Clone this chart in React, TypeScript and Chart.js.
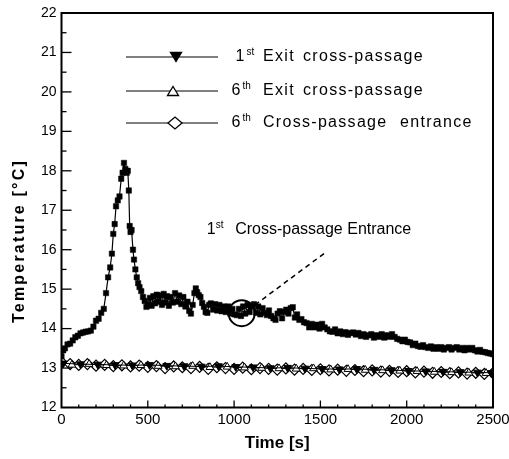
import React, { useEffect, useRef } from 'react';
import { Chart, registerables } from 'chart.js';

Chart.register(...registerables);

// ---------------- DATA ----------------
// 1st Cross-passage Entrance (upper curve, filled squares)
const entrance1Time = [
  0, 10, 20, 35, 50, 65, 80, 95, 110, 125,
  140, 155, 170, 185, 200, 215, 230, 245, 258, 270,
  282, 292, 300, 308, 316, 326, 336, 346, 354, 362,
  370, 378, 384, 390, 395, 400, 406, 414, 420, 428,
  436, 444, 452, 462, 472, 482, 492, 502, 512, 522,
  532, 542, 552, 562, 572, 582, 592, 602, 612, 622,
  632, 645, 658, 670, 682, 694, 706, 718, 730, 740,
  750, 760, 770, 778, 786, 795, 805, 815, 825, 835,
  845, 855, 865, 878, 890, 902, 915, 928, 940, 952,
  965, 978, 990, 1002, 1015, 1028, 1040, 1052, 1065, 1078,
  1090, 1102, 1115, 1128, 1140, 1152, 1165, 1178, 1190, 1202,
  1215, 1228, 1240, 1252, 1265, 1278, 1290, 1302, 1315, 1328,
  1340, 1352, 1365, 1378, 1390, 1405, 1420, 1435, 1450, 1465,
  1480, 1495, 1510, 1525, 1540, 1555, 1570, 1585, 1600, 1615,
  1630, 1645, 1660, 1675, 1690, 1705, 1720, 1735, 1750, 1765,
  1780, 1795, 1810, 1825, 1840, 1855, 1870, 1885, 1900, 1915,
  1930, 1945, 1960, 1975, 1990, 2005, 2020, 2035, 2050, 2065,
  2080, 2095, 2110, 2125, 2140, 2155, 2170, 2185, 2200, 2215,
  2230, 2245, 2260, 2275, 2290, 2305, 2320, 2335, 2350, 2365,
  2380, 2395, 2410, 2425, 2440, 2455, 2470, 2485, 2500,
];
const entrance1Temp = [
  13.3, 13.45, 13.5, 13.6, 13.62, 13.7, 13.78, 13.82, 13.88, 13.9,
  13.92, 13.93, 13.95, 14.05, 14.2, 14.25, 14.4, 14.5, 14.9, 15.3,
  15.55, 15.9, 16.4, 16.65, 17.1, 17.25, 17.35, 17.8, 17.95, 18.2,
  18.05, 17.95, 18.0, 17.5, 16.6, 16.45, 16.5, 16.0, 15.75, 15.5,
  15.3, 15.15, 15.05, 14.95, 14.8, 14.7, 14.55, 14.62, 14.78, 14.58,
  14.82, 14.64, 14.86, 14.68, 14.84, 14.6, 14.88, 14.66, 14.82, 14.58,
  14.8, 14.66, 14.9, 14.68, 14.84, 14.62, 14.8, 14.56, 14.68, 14.45,
  14.38, 14.6, 14.9, 15.02, 14.92, 14.85, 14.8, 14.65, 14.55, 14.42,
  14.4, 14.6, 14.64, 14.48, 14.62, 14.46, 14.6, 14.44, 14.56, 14.42,
  14.56, 14.38, 14.5, 14.36, 14.34, 14.5, 14.32, 14.56, 14.38, 14.6,
  14.42, 14.56, 14.62, 14.4, 14.56, 14.36, 14.52, 14.4, 14.34, 14.46,
  14.32, 14.26, 14.22, 14.38, 14.44, 14.26, 14.42, 14.48, 14.38, 14.52,
  14.54, 14.28, 14.36, 14.22, 14.24, 14.16, 14.14, 14.03, 14.12, 14.03,
  14.1, 14.0, 14.12, 14.03, 13.98, 13.93, 13.92, 13.98, 13.88, 13.93,
  13.86, 13.91, 13.84, 13.89, 13.9, 13.85, 13.89, 13.81, 13.86, 13.79,
  13.83, 13.86, 13.77, 13.83, 13.79, 13.86, 13.77, 13.83, 13.79, 13.86,
  13.79, 13.74, 13.72, 13.68, 13.72, 13.66, 13.65, 13.58, 13.62, 13.56,
  13.54, 13.58, 13.53, 13.51, 13.55, 13.49, 13.53, 13.49, 13.53, 13.47,
  13.51, 13.53, 13.47, 13.51, 13.53, 13.47, 13.51, 13.45, 13.51, 13.47,
  13.51, 13.45, 13.42, 13.46, 13.41, 13.4, 13.38, 13.37, 13.35,
];

// 1st Exit cross-passage (filled down triangles)
const exit1Time = [
  10, 110, 210, 310, 410, 510, 610, 710, 810, 910,
  1010, 1110, 1210, 1310, 1410, 1510, 1610, 1710, 1810, 1910,
  2010, 2110, 2210, 2310, 2410, 2490,
];
const exit1Temp = [
  13.12, 13.1, 13.09, 13.08, 13.07, 13.08, 13.06, 13.05, 13.04, 13.05,
  13.03, 13.02, 13.0, 13.01, 12.99, 12.98, 12.97, 12.98, 12.96, 12.95,
  12.93, 12.92, 12.91, 12.9, 12.89, 12.88,
];

// 6th Exit cross-passage (open up triangles)
const exit6Time = [
  60, 160, 260, 360, 460, 560, 660, 760, 860, 960,
  1060, 1160, 1260, 1360, 1460, 1560, 1660, 1760, 1860, 1960,
  2060, 2160, 2260, 2360, 2460,
];
const exit6Temp = [
  13.08, 13.1, 13.07, 13.06, 13.07, 13.05, 13.04, 13.05, 13.02, 13.03,
  13.01, 13.0, 12.99, 12.98, 12.99, 12.96, 12.97, 12.95, 12.94, 12.93,
  12.92, 12.9, 12.89, 12.88, 12.87,
];

// 6th Cross-passage entrance (open diamonds)
const entrance6Time = [
  0, 50, 100, 150, 200, 250, 300, 350, 400, 450,
  500, 550, 600, 650, 700, 750, 800, 850, 900, 950,
  1000, 1050, 1100, 1150, 1200, 1250, 1300, 1350, 1400, 1450,
  1500, 1550, 1600, 1650, 1700, 1750, 1800, 1850, 1900, 1950,
  2000, 2050, 2100, 2150, 2200, 2250, 2300, 2350, 2400, 2450,
  2500,
];
const entrance6Temp = [
  13.15, 13.1, 13.08, 13.1, 13.06, 13.08, 13.05, 13.07, 13.04, 13.06,
  13.03, 13.05, 13.0, 13.04, 13.02, 13.0, 13.03, 12.98, 13.02, 13.0,
  12.98, 13.01, 12.97, 13.0, 12.98, 12.96, 12.99, 12.96, 12.98, 12.95,
  12.97, 12.94, 12.96, 12.93, 12.95, 12.92, 12.94, 12.91, 12.93, 12.9,
  12.92, 12.89, 12.91, 12.88, 12.9, 12.87, 12.89, 12.86, 12.88, 12.85,
  12.87,
];

const xTickValues = [0, 500, 1000, 1500, 2000, 2500];
const yTickValues = [12, 13, 14, 15, 16, 17, 18, 19, 20, 21, 22];

const xTitle = 'Time [s]';
const yTitle = 'Temperature [°C]';

const legendRows = [
  { num: '1', sup: 'st', words: ['Exit', 'cross-passage'], marker: 'triDown' },
  { num: '6', sup: 'th', words: ['Exit', 'cross-passage'], marker: 'triUp' },
  { num: '6', sup: 'th', words: ['Cross-passage', 'entrance'], marker: 'diamond' },
];

const annotationNum = '1';
const annotationSup = 'st';
const annotationText = 'Cross-passage Entrance';
// annotation anchor points in data space
const annotCircle = { x: 1044, y: 14.39 };
const annotLineStart = { x: 1121, y: 14.6 };
const annotLineEnd = { x: 1536, y: 15.95 };
const annotTextAt = { x: 841, y: 16.5 };

const FONT = '"Liberation Sans", Arial, sans-serif';

const toPts = (xs: number[], ys: number[]) => xs.map((x, i) => ({ x, y: ys[i] }));

function drawMarker(ctx: CanvasRenderingContext2D, kind: string, x: number, y: number) {
  ctx.save();
  ctx.lineWidth = 1.3;
  ctx.strokeStyle = '#000';
  ctx.beginPath();
  if (kind === 'triDown') {
    ctx.moveTo(x - 5.5, y - 4.5);
    ctx.lineTo(x + 5.5, y - 4.5);
    ctx.lineTo(x, y + 4.5);
    ctx.closePath();
    ctx.fillStyle = '#000';
    ctx.fill();
    ctx.stroke();
  } else if (kind === 'triUp') {
    ctx.moveTo(x - 5.5, y + 4.5);
    ctx.lineTo(x + 5.5, y + 4.5);
    ctx.lineTo(x, y - 4.5);
    ctx.closePath();
    ctx.fillStyle = '#fff';
    ctx.fill();
    ctx.stroke();
  } else {
    ctx.moveTo(x - 7, y);
    ctx.lineTo(x, y - 6);
    ctx.lineTo(x + 7, y);
    ctx.lineTo(x, y + 6);
    ctx.closePath();
    ctx.fillStyle = '#fff';
    ctx.fill();
    ctx.stroke();
  }
  ctx.restore();
}

const decorPlugin = {
  id: 'decor',
  afterDraw(chart: any) {
    const ctx: CanvasRenderingContext2D = chart.ctx;
    const a = chart.chartArea;
    const xs = chart.scales.x;
    const ys = chart.scales.y;
    ctx.save();

    // frame
    ctx.strokeStyle = '#000';
    ctx.lineWidth = 2;
    ctx.strokeRect(a.left, a.top, a.right - a.left, a.bottom - a.top);

    // inward ticks bottom axis (major every 500, minor every 100)
    ctx.lineWidth = 1.3;
    for (let v = 100; v < 2500; v += 100) {
      const px = xs.getPixelForValue(v);
      const len = v % 500 === 0 ? 7 : 3;
      ctx.beginPath();
      ctx.moveTo(px, a.bottom);
      ctx.lineTo(px, a.bottom - len);
      ctx.stroke();
    }
    // inward ticks left axis (major every 1, minor every 0.5)
    for (let v = 12.5; v < 22; v += 0.5) {
      const py = ys.getPixelForValue(v);
      const len = Number.isInteger(v) ? 10 : 5;
      ctx.beginPath();
      ctx.moveTo(a.left, py);
      ctx.lineTo(a.left + len, py);
      ctx.stroke();
    }

    // axis titles
    ctx.fillStyle = '#000';
    ctx.font = `bold 17px ${FONT}`;
    ctx.textAlign = 'center';
    ctx.textBaseline = 'middle';
    ctx.fillText(xTitle, (a.left + a.right) / 2, a.bottom + 36);

    ctx.save();
    ctx.translate(20, a.top + 228);
    ctx.rotate(-Math.PI / 2);
    ctx.font = `bold 16px ${FONT}`;
    (ctx as any).letterSpacing = '2.2px';
    ctx.fillText(yTitle, 0, 0);
    ctx.restore();

    // legend
    ctx.textAlign = 'left';
    const rowY = [a.top + 44, a.top + 78, a.top + 110];
    const markerX = [a.left + 114.5, a.left + 111.5, a.left + 113.5];
    legendRows.forEach((r, i) => {
      const y = rowY[i];
      ctx.lineWidth = 1;
      ctx.beginPath();
      ctx.moveTo(a.left + 64.5, y);
      ctx.lineTo(a.left + 156.5, y);
      ctx.stroke();
      drawMarker(ctx, r.marker, markerX[i], y);
      ctx.font = `16px ${FONT}`;
      (ctx as any).letterSpacing = '0px';
      ctx.fillText(r.num, a.left + (i === 0 ? 174 : 170), y);
      ctx.font = `10px ${FONT}`;
      ctx.fillText(r.sup, a.left + (i === 0 ? 185 : 181), y - 5);
      ctx.font = `16px ${FONT}`;
      (ctx as any).letterSpacing = '1.3px';
      ctx.fillText(r.words[0], a.left + 201.5, y);
      ctx.fillText(r.words[1], a.left + (i === 2 ? 338.5 : 241.5), y);
      (ctx as any).letterSpacing = '0px';
    });

    // annotation
    const cx = xs.getPixelForValue(annotCircle.x);
    const cy = ys.getPixelForValue(annotCircle.y);
    ctx.lineWidth = 2;
    ctx.beginPath();
    ctx.arc(cx, cy, 13, 0, Math.PI * 2);
    ctx.stroke();

    ctx.lineWidth = 1.5;
    ctx.setLineDash([5, 4]);
    ctx.beginPath();
    ctx.moveTo(xs.getPixelForValue(annotLineStart.x), ys.getPixelForValue(annotLineStart.y));
    ctx.lineTo(xs.getPixelForValue(annotLineEnd.x), ys.getPixelForValue(annotLineEnd.y));
    ctx.stroke();
    ctx.setLineDash([]);

    const tx = xs.getPixelForValue(annotTextAt.x);
    const ty = ys.getPixelForValue(annotTextAt.y);
    ctx.font = `16px ${FONT}`;
    ctx.fillText(annotationNum, tx, ty);
    ctx.font = `10px ${FONT}`;
    ctx.fillText(annotationSup, tx + 9, ty - 5);
    ctx.font = `16px ${FONT}`;
    ctx.fillText(annotationText, tx + 28.5, ty);

    ctx.restore();
  },
};

export default function App() {
  const canvasRef = useRef<HTMLCanvasElement | null>(null);

  useEffect(() => {
    if (!canvasRef.current) return;
    const chart = new Chart(canvasRef.current, {
      type: 'scatter',
      data: {
        datasets: [
          {
            label: '1st Cross-passage Entrance',
            data: toPts(entrance1Time, entrance1Temp),
            showLine: true,
            borderColor: '#000',
            borderWidth: 1.2,
            backgroundColor: '#000',
            pointStyle: 'rect',
            pointRadius: 3.8,
            pointBorderWidth: 0.5,
            pointBorderColor: '#000',
            pointBackgroundColor: '#000',
          },
          {
            label: '1st Exit cross-passage',
            data: toPts(exit1Time, exit1Temp),
            showLine: true,
            borderColor: '#000',
            borderWidth: 1,
            pointStyle: 'triangle',
            rotation: 180,
            pointRadius: 4.5,
            pointBorderWidth: 1,
            pointBorderColor: '#000',
            pointBackgroundColor: '#000',
          },
          {
            label: '6th Exit cross-passage',
            data: toPts(exit6Time, exit6Temp),
            showLine: true,
            borderColor: '#000',
            borderWidth: 1,
            pointStyle: 'triangle',
            pointRadius: 4.5,
            pointBorderWidth: 1,
            pointBorderColor: '#000',
            pointBackgroundColor: '#fff',
          },
          {
            label: '6th Cross-passage entrance',
            data: toPts(entrance6Time, entrance6Temp),
            showLine: true,
            borderColor: '#000',
            borderWidth: 1,
            pointStyle: 'rectRot',
            pointRadius: 5.5,
            pointBorderWidth: 1.2,
            pointBorderColor: '#000',
            pointBackgroundColor: '#fff',
          },
        ],
      },
      options: {
        animation: false,
        responsive: false,
        devicePixelRatio: 1,
        layout: { padding: { left: 0, right: 16, top: 13, bottom: 0 } },
        plugins: { legend: { display: false }, tooltip: { enabled: false } },
        scales: {
          x: {
            type: 'linear',
            min: 0,
            max: 2500,
            afterBuildTicks: (s: any) => {
              s.ticks = xTickValues.map((v) => ({ value: v }));
            },
            afterFit: (s: any) => {
              s.height = 51.5;
              s.paddingLeft = 0;
              s.paddingRight = 0;
            },
            grid: { display: false, drawTicks: false, tickLength: 0 },
            border: { display: false },
            ticks: {
              color: '#000',
              font: { size: 15, family: FONT },
              padding: 3,
              maxRotation: 0,
              autoSkip: false,
              callback: (v: any) => String(v),
            },
          },
          y: {
            type: 'linear',
            min: 12,
            max: 22,
            afterBuildTicks: (s: any) => {
              s.ticks = yTickValues.map((v) => ({ value: v }));
            },
            afterFit: (s: any) => {
              s.width = 61.5;
              s.paddingTop = 0;
              s.paddingBottom = 0;
            },
            grid: { display: false, drawTicks: false, tickLength: 0 },
            border: { display: false },
            ticks: {
              color: '#000',
              font: { size: 14, family: FONT },
              padding: 5,
              autoSkip: false,
              callback: (v: any) => String(v),
            },
          },
        },
      },
      plugins: [decorPlugin],
    } as any);
    return () => chart.destroy();
  }, []);

  return (
    <div style={{ position: 'absolute', left: 0, top: 0, width: 509, height: 459, background: '#fff' }}>
      <canvas ref={canvasRef} width={509} height={459} style={{ display: 'block' }} />
    </div>
  );
}
